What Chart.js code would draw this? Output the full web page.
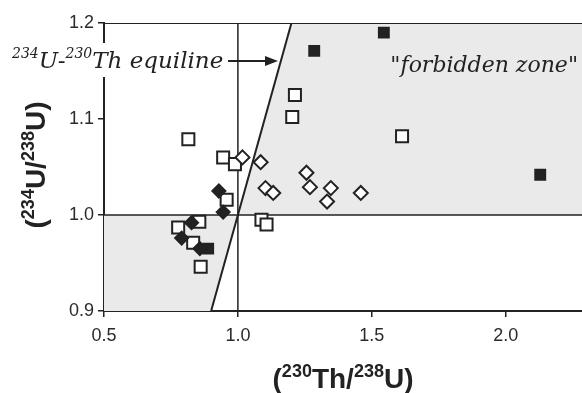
<!DOCTYPE html>
<html>
<head>
<meta charset="utf-8">
<script src="https://cdn.jsdelivr.net/npm/chart.js@4.4.0/dist/chart.umd.min.js"></script>
<style>
  html, body { margin: 0; padding: 0; background: #fff; }
  canvas { display: block; }
</style>
</head>
<body>
<canvas id="chart" width="582" height="393"></canvas>
<script>
// axis ranges and ticks
const xMin = 0.5, xMax = 2.285;
const yMin = 0.9, yMax = 1.2;
const xTicks = [0.5, 1.0, 1.5, 2.0];
const yTicks = [0.9, 1.0, 1.1, 1.2];

// data
const openSquares = [
  { x: 0.815, y: 1.079 }, { x: 0.945, y: 1.060 }, { x: 0.989, y: 1.053 },
  { x: 0.958, y: 1.016 }, { x: 1.088, y: 0.995 }, { x: 1.107, y: 0.990 },
  { x: 0.856, y: 0.993 }, { x: 0.777, y: 0.987 }, { x: 0.833, y: 0.971 },
  { x: 0.861, y: 0.946 }, { x: 1.203, y: 1.102 }, { x: 1.213, y: 1.125 },
  { x: 1.613, y: 1.082 },
];
const openDiamonds = [
  { x: 1.017, y: 1.060 }, { x: 1.085, y: 1.055 }, { x: 1.103, y: 1.028 },
  { x: 1.132, y: 1.023 }, { x: 1.256, y: 1.044 }, { x: 1.269, y: 1.029 },
  { x: 1.347, y: 1.028 }, { x: 1.333, y: 1.014 }, { x: 1.459, y: 1.023 },
];
const filledSquares = [
  { x: 1.285, y: 1.171 }, { x: 1.545, y: 1.190 }, { x: 2.129, y: 1.042 },
  { x: 0.889, y: 0.965 },
];
const filledDiamonds = [
  { x: 0.929, y: 1.025 }, { x: 0.945, y: 1.003 }, { x: 0.827, y: 0.992 },
  { x: 0.790, y: 0.976 }, { x: 0.858, y: 0.965 },
];

// equiline and reference lines
const equiline = [{ x: 0.9, y: 0.9 }, { x: 1.2, y: 1.2 }];
const lineY1 = [{ x: xMin, y: 1.0 }, { x: xMax, y: 1.0 }];
const lineX1 = [{ x: 1.0, y: yMin }, { x: 1.0, y: yMax }];
const topFrame = [{ x: xMin, y: yMax }, { x: xMax, y: yMax }];

// "forbidden zone" polygons
const zoneUpper = [{ x: 1.0, y: 1.0 }, { x: 1.2, y: 1.2 }, { x: xMax, y: 1.2 }, { x: xMax, y: 1.0 }, { x: 1.0, y: 1.0 }];
const zoneLower = [{ x: xMin, y: 1.0 }, { x: 1.0, y: 1.0 }, { x: 0.9, y: 0.9 }, { x: xMin, y: 0.9 }, { x: xMin, y: 1.0 }];

const INK = "#222";
const ZONE = "#eaeaea";

function polygon(data) {
  return {
    type: "line", data, showLine: true, fill: "shape",
    backgroundColor: ZONE, borderWidth: 0, pointRadius: 0, order: 20,
  };
}
function line(data, w) {
  return {
    type: "line", data, showLine: true, fill: false,
    borderColor: INK, borderWidth: w, pointRadius: 0, order: 10,
  };
}
function markers(data, style, r, fill, order) {
  return {
    data, showLine: false, pointStyle: style, pointRadius: r, pointHoverRadius: r,
    pointBackgroundColor: fill, pointBorderColor: INK, pointBorderWidth: 2, order,
  };
}

// rich text with superscripts
function drawRich(ctx, parts, x, y, mainFont, supFont, raise, align) {
  let total = 0;
  parts.forEach((p) => {
    ctx.font = p.sup ? supFont : mainFont;
    p.w = ctx.measureText(p.t).width;
    total += p.w;
  });
  let cx = align === "center" ? x - total / 2 : align === "right" ? x - total : x;
  ctx.textAlign = "left";
  ctx.textBaseline = "alphabetic";
  parts.forEach((p) => {
    ctx.font = p.sup ? supFont : mainFont;
    ctx.fillText(p.t, cx, p.sup ? y - raise : y);
    cx += p.w;
  });
}

const annotations = {
  id: "annotations",
  afterDraw(chart) {
    const ctx = chart.ctx;
    ctx.save();
    // white box behind the equiline label
    ctx.fillStyle = "#fff";
    ctx.fillRect(8, 43, 218, 34);
    ctx.fillStyle = INK;
    const serif = "'DejaVu Serif'";
    drawRich(ctx, [
      { t: "234", sup: true }, { t: "U-" }, { t: "230", sup: true }, { t: "Th equiline" },
    ], 12, 68, "italic 23px " + serif, "italic 14px " + serif, 10, "left");

    // arrow
    ctx.strokeStyle = INK;
    ctx.lineWidth = 2;
    ctx.beginPath();
    ctx.moveTo(228, 61);
    ctx.lineTo(266, 61);
    ctx.stroke();
    ctx.beginPath();
    ctx.moveTo(278, 61);
    ctx.lineTo(265, 56);
    ctx.lineTo(265, 66);
    ctx.closePath();
    ctx.fill();

    drawRich(ctx, [{ t: "\"forbidden zone\"" }], 578, 72,
      "italic 22px " + serif, "", 0, "right");

    // axis titles
    const mainF = "bold 28px 'Liberation Sans', Arial";
    const supF = "bold 18px 'Liberation Sans', Arial";
    drawRich(ctx, [
      { t: "(" }, { t: "230", sup: true }, { t: "Th/" }, { t: "238", sup: true }, { t: "U)" },
    ], 343, 388, mainF, supF, 11, "center");

    ctx.translate(45, 165);
    ctx.rotate(-Math.PI / 2);
    drawRich(ctx, [
      { t: "(" }, { t: "234", sup: true }, { t: "U/" }, { t: "238", sup: true }, { t: "U)" },
    ], 0, 0, mainF, supF, 11, "center");
    ctx.restore();
  },
};

const tickFont = { family: "'Liberation Sans', Arial", size: 18 };

new Chart(document.getElementById("chart"), {
  type: "scatter",
  data: {
    datasets: [
      polygon(zoneUpper),
      polygon(zoneLower),
      line(lineY1, 1.5),
      line(lineX1, 1.5),
      line(topFrame, 2),
      line(equiline, 2),
      markers(openSquares, "rect", 8.5, "#fff", 6),
      markers(openDiamonds, "rectRot", 7, "#fff", 5),
      markers(filledSquares, "rect", 7, INK, 4),
      markers(filledDiamonds, "rectRot", 6.5, INK, 3),
    ],
  },
  options: {
    responsive: false,
    devicePixelRatio: 1,
    animation: false,
    layout: { autoPadding: false, padding: { top: 23, right: 0, left: 0, bottom: 0 } },
    plugins: { legend: { display: false }, tooltip: { enabled: false } },
    scales: {
      x: {
        type: "linear", min: xMin, max: xMax,
        afterBuildTicks: (s) => { s.ticks = xTicks.map((v) => ({ value: v })); },
        afterFit: (s) => { s.height = 82; s.paddingRight = 0; },
        ticks: { font: tickFont, color: "#2a2a2a", padding: 8, maxRotation: 0,
          callback: (v) => Number(v).toFixed(1) },
        grid: { display: true, drawOnChartArea: false, drawTicks: true, tickLength: 6, color: INK, lineWidth: 1.5 },
        border: { display: true, color: INK, width: 2 },
      },
      y: {
        type: "linear", min: yMin, max: yMax,
        afterBuildTicks: (s) => { s.ticks = yTicks.map((v) => ({ value: v })); },
        afterFit: (s) => { s.width = 104; },
        ticks: { font: tickFont, color: "#2a2a2a", padding: 4,
          callback: (v) => Number(v).toFixed(1) },
        grid: { display: true, drawOnChartArea: false, drawTicks: true, tickLength: 6, color: INK, lineWidth: 1.5 },
        border: { display: true, color: INK, width: 2 },
      },
    },
  },
  plugins: [annotations],
});
</script>
</body>
</html>
